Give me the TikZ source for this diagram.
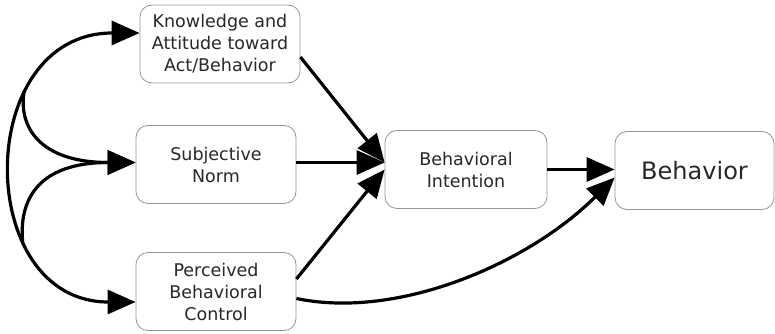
\documentclass[tikz,border=0pt]{standalone}
\usepackage{fontspec}
\setmainfont{DejaVu Sans}
\usepackage{tikz}
\usetikzlibrary{arrows.meta}
\definecolor{boxgray}{RGB}{150,150,150}
\definecolor{textgray}{RGB}{40,40,40}
\newcommand{\widthbox}{160pt}
\newcommand{\heightbox}{78pt}
\tikzset{
    common/.style={draw=boxgray, line width=0.8pt, rounded corners=12pt, fill=white, text=textgray, align=center, inner sep=0pt, minimum height=\heightbox},
    factor/.style={common, minimum width=\widthbox, font=\fontsize{17.5}{22}\selectfont},
    outcome/.style={common, minimum width=159pt, font=\fontsize{24}{28}\selectfont},
    link/.style={line width=3.2pt, -{Triangle[length=28pt,width=24pt]}},
    twolink/.style={line width=3.2pt, {Triangle[length=28pt,width=24pt]}-{Triangle[length=28pt,width=24pt]}}
}

\begin{document}
\begin{tikzpicture}[x=1pt, y=-1pt]
    \useasboundingbox (0,0) rectangle (775,334);
    \node[factor] (know) at (220,44) {Knowledge and\\Attitude toward\\Act/Behavior};
    \node[factor] (norm) at (216,164.5) {Subjective\\Norm};
    \node[factor] (perc) at (216,291.5) {Perceived\\Behavioral\\Control};
    \node[factor, minimum width=162pt] (inten) at (466,169.5) {Behavioral\\Intention};
    \node[outcome] (behav) at (694.5,170.5) {Behavior};
    \coordinate (splitk) at (24.3,91);
    \coordinate (splitp) at (22.9,244);

    % correlations on the left
    \draw[twolink] ([yshift=11pt]know.west) .. controls (-27,33) and (-27,302) .. ([yshift=-10.5pt]perc.west);
    \draw[link] (splitk) .. controls (18,125) and (38,162.5) .. ([yshift=2pt]norm.west);
    \draw[link] (splitp) .. controls (18,200) and (38,162.5) .. ([yshift=2pt]norm.west);

    % paths to intention and behavior
    \draw[link] ([yshift=-13pt]know.east) -- ([yshift=7pt]inten.west);
    \draw[link] ([yshift=2pt]norm.east) -- ([yshift=2pt]norm.east -| inten.west);
    \draw[link] ([yshift=12.5pt]perc.east) -- (inten.west);
    \draw[link] (inten.east) -- (inten.east -| behav.west);
    \draw[link] ([yshift=-7pt]perc.east) .. controls (400,320) and (530,262) .. ([yshift=-7pt]behav.west);
\end{tikzpicture}
\end{document}
